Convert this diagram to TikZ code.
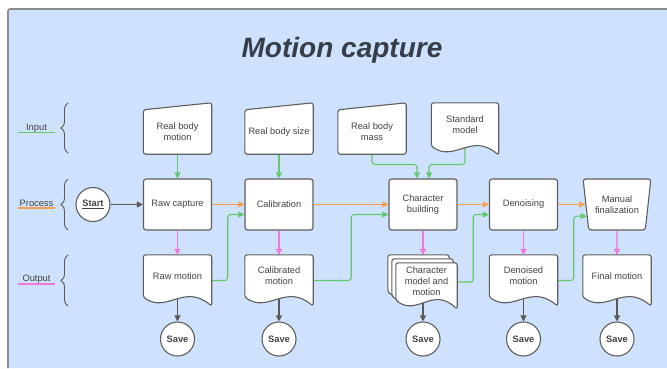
\documentclass[tikz,border=0pt]{standalone}
\usepackage{fontspec}
\setmainfont{Liberation Sans}
\usetikzlibrary{calc,shapes.geometric,arrows.meta,decorations.pathreplacing}

\definecolor{panelfill}{RGB}{207,226,253}
\definecolor{panelline}{RGB}{140,140,140}
\definecolor{shapeline}{RGB}{95,95,95}
\definecolor{txt}{RGB}{66,66,66}
\definecolor{titletxt}{RGB}{55,62,74}
\definecolor{flowgreen}{RGB}{98,200,110}
\definecolor{floworange}{RGB}{247,158,80}
\definecolor{flowpink}{RGB}{240,120,222}
\definecolor{flowgrey}{RGB}{90,90,90}

\pgfdeclarelayer{panel}
\pgfdeclarelayer{links}
\pgfdeclarelayer{outlines}
\pgfsetlayers{panel,links,outlines,main}

% manual-input outline: rectangle with a slanted top edge
\newcommand\inputoutline[1]{%
  \draw[shapeedge] (#1.south west) -- (#1.north west) -- ($(#1.north east)+(0,-7)$) -- (#1.south east) -- cycle;}
% document outline: rectangle with a wavy bottom edge
\newcommand\docoutline[1]{%
  \draw[shapeedge] (#1.south west) -- (#1.north west) -- (#1.north east) -- ($(#1.south east)+(0,9)$)
    .. controls ($(#1.south east)!0.4!(#1.south west)+(0,-14)$) and ($(#1.south east)!0.65!(#1.south west)+(0,16)$) .. (#1.south west) -- cycle;}

\begin{document}
\begin{tikzpicture}[x=1pt,y=-1pt,
  every node/.style={font=\fontsize{9.3}{11}\selectfont, text=txt, align=center},
  shapeedge/.style={draw=shapeline, fill=white, line width=1.1pt, rounded corners=2.5pt},
  procbox/.style={shapeedge, minimum width=68pt, minimum height=51pt, inner sep=1pt},
  manbox/.style={procbox, trapezium, trapezium stretches=true, shape border rotate=180,
    trapezium left angle=77, trapezium right angle=77},
  inbox/.style={minimum width=68pt, minimum height=44pt, inner sep=0pt},
  docbox/.style={minimum width=68pt, minimum height=42pt, inner sep=0pt},
  pagebox/.style={minimum width=61pt, minimum height=37pt, inner sep=0pt},
  roundnode/.style={circle, draw=shapeline, fill=white, line width=1.1pt, minimum size=34pt,
    inner sep=0pt, font=\fontsize{9.3}{11}\selectfont\bfseries},
  link/.style={line width=1.1pt, rounded corners=3pt, -{Triangle[length=6pt,width=6pt]}},
  greenlink/.style={link, draw=flowgreen},
  orangelink/.style={link, draw=floworange},
  pinklink/.style={link, draw=flowpink},
  greylink/.style={link, draw=flowgrey},
  rowlabel/.style={anchor=base, text=txt},
  rowbrace/.style={draw=flowgrey, line width=0.9pt, decorate, decoration={brace, amplitude=7pt}}
]
\useasboundingbox (0,0) rectangle (667,368);

% panel
\begin{pgfonlayer}{panel}
  \fill[panelfill] (8,9) rectangle (667,368);
  \draw[panelline, line width=1.6pt, rounded corners=2pt] (8,368) -- (8,9) -- (667,9);
\end{pgfonlayer}

% title
\node[font=\fontsize{28}{32}\selectfont\bfseries\itshape, text=titletxt, anchor=base] (title) at (342,57) {Motion capture};

% row labels and braces
\node[rowlabel] (lin) at (36.5,130.5) {Input};
\node[rowlabel] (lproc) at (36.5,206) {Process};
\node[rowlabel] (lout) at (36.5,281.5) {Output};
\draw[flowgreen, line width=1.4pt] (18,132.5) -- (55,132.5);
\draw[floworange, line width=1.4pt] (18,208) -- (55,208);
\draw[flowpink, line width=1.4pt] (18,284) -- (55,284);
\draw[rowbrace] (68,153) -- (68,103);
\draw[rowbrace] (68,230) -- (68,179);
\draw[rowbrace] (68,306) -- (68,255);

% start
\node[roundnode] (start) at (93,204.5) {\underline{Start}};

% inputs
\node[inbox] (in1) at (177.5,132) {Real body\\motion};
\node[inbox] (in2) at (279,132) {Real body size};
\node[inbox] (mass) at (372,132) {Real body\\mass};
\node[minimum width=67pt, minimum height=43pt, inner sep=0pt] (std) at (465,124.5) {Standard\\model};

% process steps
\node[procbox] (raw) at (177.5,204.5) {Raw capture};
\node[procbox] (cal) at (279,204.5) {Calibration};
\node[procbox] (char) at (423,204.5) {Character\\building};
\node[procbox] (den) at (523.5,204.5) {Denoising};
\node[manbox] (man) at (617,204.5) {Manual\\finalization};

% outputs
\node[docbox] (out1) at (177.5,276) {Raw motion};
\node[docbox] (out2) at (279,276) {Calibrated\\motion};
\node[pagebox] (chm1) at (418.5,273.5) {};
\node[pagebox] (chm2) at (422.5,277.5) {};
\node[pagebox] (chm3) at (426.5,281.5) {Character\\model and\\motion};
\node[docbox] (out4) at (523.5,276) {Denoised\\motion};
\node[docbox] (out5) at (617,276) {Final motion};

% save points
\node[roundnode] (save1) at (177.5,339) {Save};
\node[roundnode] (save2) at (279,339) {Save};
\node[roundnode] (save3) at (423,339) {Save};
\node[roundnode] (save4) at (523.5,339) {Save};
\node[roundnode] (save5) at (617,339) {Save};

% shape outlines behind the texts
\begin{pgfonlayer}{outlines}
  \inputoutline{in1}
  \inputoutline{in2}
  \inputoutline{mass}
  \docoutline{std}
  \docoutline{out1}
  \docoutline{out2}
  \docoutline{chm1}
  \docoutline{chm2}
  \docoutline{chm3}
  \docoutline{out4}
  \docoutline{out5}
\end{pgfonlayer}

% connectors
\begin{pgfonlayer}{links}
  \draw[greylink] (start) -- (raw);
  % inputs into steps
  \draw[greenlink] (in1) -- (raw);
  \draw[greenlink] (in2) -- (cal);
  \draw[greenlink] (mass.south) |- ($(char.north)+(-6,-14)$) -- ($(char.north)+(-6,0)$);
  \draw[greenlink] (std.center) |- ($(char.north)+(6,-14)$) -- ($(char.north)+(6,0)$);
  % process flow
  \draw[orangelink] (raw) -- (cal);
  \draw[orangelink] (cal) -- (char);
  \draw[orangelink] (char) -- (den);
  \draw[orangelink] (den) -- (man);
  % step outputs
  \draw[pinklink] (raw) -- (out1);
  \draw[pinklink] (cal) -- (out2);
  \draw[pinklink] (char.south) -- (char.south |- chm1.north);
  \draw[pinklink] (den) -- (out4);
  \draw[pinklink] (man.south) -- (out5.north);
  % outputs fed to the next step
  \draw[greenlink] ($(out1.east)+(0,4.5)$) -- ++(16,0) |- ($(cal.west)+(0,10)$);
  \draw[greenlink] ($(out2.east)+(0,4.5)$) -- ++(38,0) |- ($(char.west)+(0,10)$);
  \draw[greenlink] ($(chm3.east)+(0,0.5)$) -- ++(16,0) |- ($(den.west)+(0,10)$);
  \draw[greenlink] ($(out4.east)+(0,4.5)$) -- ++(16,0) |- (man.201);
  % saving
  \draw[greylink] (out1.center) -- (save1);
  \draw[greylink] (out2.center) -- (save2);
  \draw[greylink] (char.south |- chm3.center) -- (save3);
  \draw[greylink] (out4.center) -- (save4);
  \draw[greylink] (out5.center) -- (save5);
\end{pgfonlayer}
\end{tikzpicture}
\end{document}
